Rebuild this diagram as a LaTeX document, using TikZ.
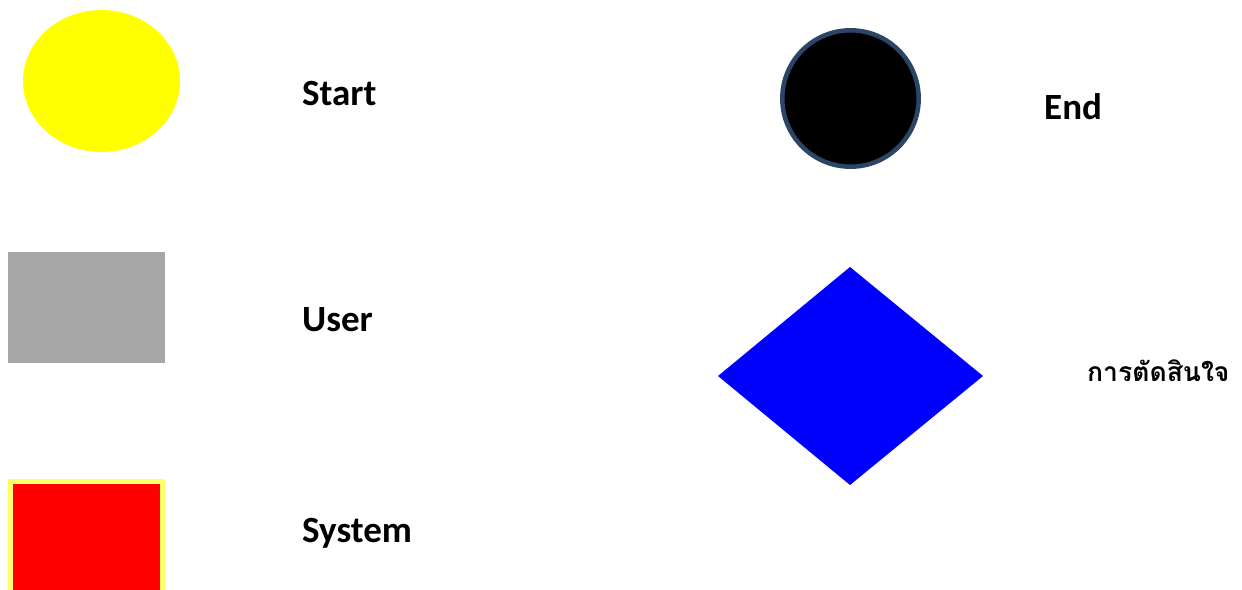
\documentclass[tikz,border=0pt]{standalone}
\usepackage{fontspec}
\setmainfont{Carlito}
\newfontfamily\thaifont[Script=Thai]{Loma}
\definecolor{startyellow}{HTML}{FFFF00}
\definecolor{usergray}{HTML}{A6A6A6}
\definecolor{sysred}{HTML}{FF0000}
\definecolor{sysborder}{HTML}{FFFF66}
\definecolor{endring}{HTML}{2B4566}
\definecolor{decblue}{HTML}{0000FF}
\tikzset{
  legendlabel/.style={anchor=base west, inner sep=0pt, font=\fontsize{37}{44}\selectfont\bfseries},
  thailabel/.style={anchor=west, inner sep=0pt, font=\thaifont\fontsize{26.5}{32}\selectfont\bfseries}
}
\begin{document}
\begin{tikzpicture}[x=1pt, y=-1pt]
    \useasboundingbox (0,0) rectangle (1242,589);
    % Start
    \fill[startyellow] (101.5,81) ellipse (78.5 and 71);
    \node[legendlabel] (lstart) at (302,105) {Start};

    % User
    \fill[usergray] (8,252) rectangle (165,363);
    \node[legendlabel] (luser) at (302,331) {User};

    % System
    \begin{scope}
        \clip (0,0) rectangle (1242,589);
        \filldraw[sysred, draw=sysborder, line width=5pt] (10.5,481.5) rectangle (162.5,600);
    \end{scope}
    \node[legendlabel] (lsystem) at (302,542) {System};

    % End
    \filldraw[fill=black, draw=endring, line width=4.5pt] (850.5,98.5) circle (68.2);
    \node[legendlabel] (lend) at (1044,119) {End};

    % decision
    \fill[decblue] (850,267) -- (983,376) -- (850,485) -- (718,376) -- cycle;
    \node[thailabel] (ldecide) at (1087,371) {การตัดสินใจ};
\end{tikzpicture}
\end{document}
